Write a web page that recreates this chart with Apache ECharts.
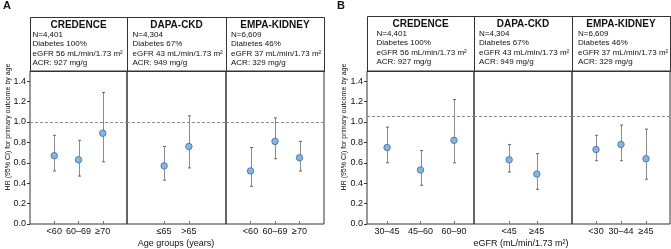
<!DOCTYPE html>
<html><head><meta charset="utf-8">
<script src="https://cdn.jsdelivr.net/npm/echarts@6/dist/echarts.min.js"></script>
<style>html,body{margin:0;padding:0;background:#fff}#c{width:671px;height:249px}</style>
</head><body><div id="c"></div>
<script>
// ---------- data ----------
const trialNames = ['CREDENCE', 'DAPA-CKD', 'EMPA-KIDNEY'];
const trialN = ['N=4,401', 'N=4,304', 'N=6,609'];
const trialDiabetes = ['Diabetes 100%', 'Diabetes 67%', 'Diabetes 46%'];
const trialEgfr = ['eGFR 56 mL/min/1.73 m²', 'eGFR 43 mL/min/1.73 m²', 'eGFR 37 mL/min/1.73 m²'];
const trialAcr = ['ACR: 927 mg/g', 'ACR: 949 mg/g', 'ACR: 329 mg/g'];

// Panel A: by age
const credenceAgeCats = ['<60', '60–69', '≥70'];
const credenceAgeHR = [0.67, 0.63, 0.89];
const credenceAgeLo = [0.52, 0.47, 0.61];
const credenceAgeHi = [0.87, 0.82, 1.29];
const dapaAgeCats = ['≤65', '>65'];
const dapaAgeHR = [0.57, 0.76];
const dapaAgeLo = [0.43, 0.55];
const dapaAgeHi = [0.76, 1.06];
const empaAgeCats = ['<60', '60–69', '≥70'];
const empaAgeHR = [0.52, 0.81, 0.65];
const empaAgeLo = [0.37, 0.64, 0.52];
const empaAgeHi = [0.75, 1.04, 0.81];

// Panel B: by eGFR
const credenceEgfrCats = ['30–45', '45–60', '60–90'];
const credenceEgfrHR = [0.75, 0.53, 0.82];
const credenceEgfrLo = [0.60, 0.38, 0.60];
const credenceEgfrHi = [0.95, 0.72, 1.22];
const dapaEgfrCats = ['<45', '≥45'];
const dapaEgfrHR = [0.63, 0.49];
const dapaEgfrLo = [0.51, 0.34];
const dapaEgfrHi = [0.78, 0.69];
const empaEgfrCats = ['<30', '30–44', '≥45'];
const empaEgfrHR = [0.73, 0.78, 0.64];
const empaEgfrLo = [0.62, 0.62, 0.44];
const empaEgfrHi = [0.87, 0.97, 0.93];

const yTicks = [0, 0.2, 0.4, 0.6, 0.8, 1.0, 1.2, 1.4];
const yMax = 1.5;
const refLineA = 1.0;
const refLineB = 1.06;
const yTitle = 'HR (95% CI) for primary outcome by age';
const xTitleA = 'Age groups (years)';
const xTitleB = 'eGFR (mL/min/1.73 m²)';

// ---------- layout ----------
const plotTop = 71, plotBottom = 224;
const panels = [
  {cats: credenceAgeCats, hr: credenceAgeHR, lo: credenceAgeLo, hi: credenceAgeHi, l: 30, r: 127, xmin: -1, xmax: 3, ref: refLineA, first: true, textX: 32.5, headTop: 17, trial: 0},
  {cats: dapaAgeCats, hr: dapaAgeHR, lo: dapaAgeLo, hi: dapaAgeHi, l: 127, r: 226, xmin: -1.5, xmax: 2.5, ref: refLineA, textX: 132.5, headTop: 17, trial: 1},
  {cats: empaAgeCats, hr: empaAgeHR, lo: empaAgeLo, hi: empaAgeHi, l: 226, r: 324, xmin: -1, xmax: 3, ref: refLineA, textX: 231, headTop: 17, trial: 2},
  {cats: credenceEgfrCats, hr: credenceEgfrHR, lo: credenceEgfrLo, hi: credenceEgfrHi, l: 367, r: 474, xmin: -0.6, xmax: 2.6, ref: refLineB, first: true, textX: 376.5, headTop: 16, trial: 0},
  {cats: dapaEgfrCats, hr: dapaEgfrHR, lo: dapaEgfrLo, hi: dapaEgfrHi, l: 474, r: 572, xmin: -1.27, xmax: 2.27, ref: refLineB, textX: 479, headTop: 16, trial: 1},
  {cats: empaEgfrCats, hr: empaEgfrHR, lo: empaEgfrLo, hi: empaEgfrHi, l: 572, r: 670, xmin: -0.96, xmax: 2.96, ref: refLineB, textX: 578, headTop: 16, trial: 2}
];

const FONT = '"Liberation Sans", Arial, Helvetica, sans-serif';
const grids = [], xAxes = [], yAxes = [], series = [], graphics = [];

function errRender(params, api) {
  const x = api.value(0), lo = api.value(1), hi = api.value(2);
  const a = api.coord([x, lo]), b = api.coord([x, hi]);
  const px = Math.round(a[0]) + 0.5;
  const cw = 1.5;
  return {type: 'group', children: [
    {type: 'line', shape: {x1: px, y1: a[1], x2: px, y2: b[1]}, style: {stroke: '#8c8c8c', lineWidth: 1}},
    {type: 'line', shape: {x1: px - cw, y1: a[1], x2: px + cw, y2: a[1]}, style: {stroke: '#666', lineWidth: 1}},
    {type: 'line', shape: {x1: px - cw, y1: b[1], x2: px + cw, y2: b[1]}, style: {stroke: '#666', lineWidth: 1}}
  ]};
}

panels.forEach((p, i) => {
  grids.push({left: p.l, width: p.r - p.l, top: plotTop, height: plotBottom - plotTop,
    show: true, borderColor: '#333', borderWidth: 1, backgroundColor: 'transparent'});
  const catIdx = p.cats.map((c, k) => k);
  xAxes.push({type: 'value', gridIndex: i, min: p.xmin, max: p.xmax,
    axisLine: {show: false, onZero: false}, splitLine: {show: false},
    axisTick: {show: true, inside: true, length: 3, lineStyle: {color: '#777'}, customValues: catIdx},
    axisLabel: {show: true, customValues: catIdx, margin: 3, fontSize: 9, color: '#111', fontFamily: FONT,
      formatter: v => p.cats[Math.round(v)] || ''}
  });
  yAxes.push({type: 'value', gridIndex: i, min: 0, max: yMax,
    axisLine: {show: false, onZero: false}, splitLine: {show: false},
    axisTick: {show: !!p.first, inside: false, length: 3, lineStyle: {color: '#333'}, customValues: yTicks},
    axisLabel: {show: !!p.first, customValues: yTicks, margin: 4, fontSize: 9, color: '#111', fontFamily: FONT,
      formatter: v => v.toFixed(1)}
  });
  series.push({type: 'custom', xAxisIndex: i, yAxisIndex: i, renderItem: errRender,
    encode: {x: 0, y: [1, 2]}, silent: true, z: 2,
    data: p.cats.map((c, k) => [k, p.lo[k], p.hi[k]])});
  series.push({type: 'scatter', xAxisIndex: i, yAxisIndex: i, symbolSize: 6.5, z: 3, silent: true,
    itemStyle: {color: '#82b5e0', borderColor: '#3b6fa6', borderWidth: 0.8, opacity: 1},
    data: p.cats.map((c, k) => [k, p.hr[k]]),
    markLine: {silent: true, symbol: 'none', label: {show: false}, animation: false,
      lineStyle: {type: [3, 2], color: '#8c8c8c', width: 1},
      data: [{yAxis: p.ref}]}});
  // header box
  graphics.push({type: 'rect', shape: {x: p.l + 0.5, y: p.headTop + 0.5, width: p.r - p.l, height: plotTop - p.headTop},
    style: {fill: 'none', stroke: '#333', lineWidth: 1}, silent: true});
  graphics.push({type: 'text', x: (p.l + p.r) / 2, y: p.headTop + 8, silent: true,
    style: {text: trialNames[p.trial], fontSize: 10, fontWeight: 'bold', fontFamily: FONT, fill: '#111', align: 'center', verticalAlign: 'middle'}});
  const lines = [trialN[p.trial], trialDiabetes[p.trial], trialEgfr[p.trial], trialAcr[p.trial]];
  const ly = [17.7, 26.9, 36.3, 46.1];
  lines.forEach((t, k) => graphics.push({type: 'text', x: p.textX, y: p.headTop + ly[k], silent: true,
    style: {text: t, fontSize: 8, fontFamily: FONT, fill: '#111', align: 'left', verticalAlign: 'middle'}}));
});

// panel letters, axis titles
graphics.push({type: 'text', x: 3, y: 6, silent: true, style: {text: 'A', fontSize: 11, fontWeight: 'bold', fontFamily: FONT, fill: '#111', align: 'left', verticalAlign: 'middle'}});
graphics.push({type: 'text', x: 337, y: 6, silent: true, style: {text: 'B', fontSize: 11, fontWeight: 'bold', fontFamily: FONT, fill: '#111', align: 'left', verticalAlign: 'middle'}});
[[8, 127], [344, 127]].forEach(([x, y]) => graphics.push({type: 'text', x: x, y: y, rotation: Math.PI / 2, silent: true,
  style: {text: yTitle, fontSize: 7, fontFamily: FONT, fill: '#111', align: 'center', verticalAlign: 'middle'}}));
graphics.push({type: 'text', x: 176, y: 244, silent: true, style: {text: xTitleA, fontSize: 9, fontFamily: FONT, fill: '#111', align: 'center', verticalAlign: 'middle'}});
graphics.push({type: 'text', x: 521, y: 244, silent: true, style: {text: xTitleB, fontSize: 9, fontFamily: FONT, fill: '#111', align: 'center', verticalAlign: 'middle'}});

const chart = echarts.init(document.getElementById('c'), null, {renderer: 'canvas'});
chart.setOption({animation: false, grid: grids, xAxis: xAxes, yAxis: yAxes, series: series, graphic: graphics});
</script></body></html>
